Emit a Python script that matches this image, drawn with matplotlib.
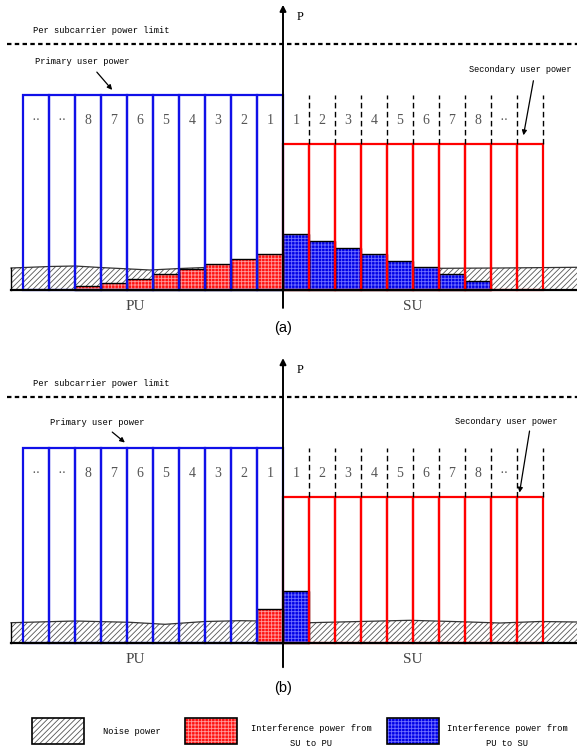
import numpy as np
import matplotlib
matplotlib.use("Agg")
import matplotlib.pyplot as plt
from matplotlib.patches import Rectangle

# ---- data (power in arbitrary units, subcarrier width = 1) ----
pu_labels = ["1", "2", "3", "4", "5", "6", "7", "8", "··", "··"]
su_labels = ["1", "2", "3", "4", "5", "6", "7", "8", "··", ""]
pu_power = 195
su_power = 146
power_limit = 246

# (a) interference levels, subcarrier 1, 2, ... outwards from the axis
red_a = [35.7, 30.7, 26.0, 20.7, 15.7, 10.7, 7.3, 4.0]
blue_a = [55.7, 49.3, 42.3, 35.7, 29.3, 23.3, 16.0, 9.3]
# (b) only the adjacent subcarrier interferes
red_b = [34.3]
blue_b = [52.3]

# noise floor (wavy)
noise_a_x = [-10.46, -8.96, -8.0, -7.04, -5.88, -5.12, -3.96, -3.0, -2.04, 0.0, 1.81, 3.73, 6.04, 8.35, 11.31]
noise_a_y = [22.0, 23.5, 24.0, 22.5, 21.0, 20.0, 21.5, 22.5, 23.0, 23.0, 22.0, 21.5, 21.7, 22.0, 22.7]
noise_b_x = [-10.46, -8.0, -5.88, -4.54, -3.0, -1.65, 0.0, 1.04, 4.88, 7.19, 8.35, 9.88, 11.31]
noise_b_y = [20.6, 22.3, 21.0, 19.0, 21.8, 22.6, 22.0, 20.6, 23.0, 21.3, 20.3, 21.8, 21.3]

BLUE = "#1010e8"
RED = "#ff0000"
MONO = "Liberation Mono"
SERIF = "Liberation Serif"

W, H = 577, 751
fig = plt.figure(figsize=(W / 100, H / 100), dpi=100)
plt.rcParams["hatch.linewidth"] = 0.6

XL = (-283 / 26, 294 / 26)


def hatched_bars(ax, x, h, face, grid):
    ax.bar(x, h, width=1, color=face, edgecolor=grid, linewidth=0, hatch="+++++", zorder=2)
    ax.bar(x, h, width=1, fill=False, edgecolor="black", linewidth=1.0, zorder=2.1)


def draw_panel(ax, red, blue, nx, ny, tag, tag_y, axis_bot, prim_arrow, sec_arrow, sec_text):
    ax.set_xlim(*XL)
    ax.axis("off")

    # noise floor
    ax.fill_between(nx, 0, ny, facecolor="white", edgecolor="#555555", hatch="//////",
                    linewidth=0, zorder=1)
    ax.plot(nx, ny, color="#333333", lw=0.9, zorder=1.5)
    ax.plot([nx[0], nx[0]], [0, ny[0]], color="black", lw=1.0, zorder=1.5)

    pu_x = -(np.arange(len(pu_labels)) + 0.5)
    su_x = np.arange(len(su_labels)) + 0.5

    hatched_bars(ax, pu_x[:len(red)], red, "#ff1010", "#ff9a9a")
    hatched_bars(ax, su_x[:len(blue)], blue, "#0000e6", "#7070ff")

    # user power allocations
    ax.bar(pu_x, pu_power, width=1, fill=False, edgecolor=BLUE, linewidth=1.6, zorder=3)
    ax.bar(su_x, su_power, width=1, fill=False, edgecolor=RED, linewidth=1.6, zorder=3)
    ax.vlines(su_x + 0.5, su_power, pu_power, colors="black", linewidth=1.0,
              linestyles=(0, (4, 2.5)), zorder=3)

    for x, s in zip(pu_x, pu_labels):
        ax.text(x, 170, s, ha="center", va="center", family=SERIF, fontsize=10, color="#555555")
    for x, s in zip(su_x, su_labels):
        ax.text(x, 170, s, ha="center", va="center", family=SERIF, fontsize=10, color="#555555")

    # baseline, limit, axis
    ax.plot([nx[0], XL[1]], [0, 0], color="black", lw=1.6, zorder=4)
    ax.plot([-10.6, XL[1]], [power_limit, power_limit], color="black", lw=1.6,
            linestyle=(0, (2, 1.5)), zorder=4)
    ax.annotate("", xy=(0, 288), xytext=(0, axis_bot),
                arrowprops=dict(arrowstyle="-|>", lw=1.4, color="black", mutation_scale=9),
                zorder=5)
    ax.text(0.65, 273, "P", family=SERIF, fontsize=9, ha="center", va="center")

    ax.text(-9.6, 259.5, "Per subcarrier power limit", family=MONO, fontsize=6.3,
            ha="left", va="center")
    ax.text(prim_arrow[0][0] - 2.3, prim_arrow[0][1] + 8, "Primary user power",
            family=MONO, fontsize=6.3, ha="left", va="center")
    ax.annotate("", xy=prim_arrow[1], xytext=prim_arrow[0],
                arrowprops=dict(arrowstyle="-|>", lw=0.9, color="black", mutation_scale=7))
    ax.text(sec_text[0], sec_text[1], "Secondary user power",
            family=MONO, fontsize=6.2, ha="right", va="center")
    ax.annotate("", xy=sec_arrow[1], xytext=sec_arrow[0],
                arrowprops=dict(arrowstyle="-|>", lw=0.9, color="black", mutation_scale=7))

    ax.text(-5.7, -16.5, "PU", family=SERIF, fontsize=11, color="#444444", ha="center", va="center")
    ax.text(5.0, -16.5, "SU", family=SERIF, fontsize=11, color="#444444", ha="center", va="center")
    ax.text(0, tag_y, tag, family="Liberation Sans", fontsize=10.5, ha="center", va="center")


# panel (a): figure pixels 0..340, baseline at 290
ax_a = fig.add_axes([0, 1 - 340 / H, 1, 340 / H])
ax_a.set_ylim(290 - 340, 290)
draw_panel(ax_a, red_a, blue_a, noise_a_x, noise_a_y, "(a)", -37.7, -20.7,
           ((-7.23, 220), (-6.5, 198)), ((9.65, 212), (9.23, 152)), (11.1, 220))

# panel (b): figure pixels 340..700, baseline at 643
ax_b = fig.add_axes([0, 1 - 700 / H, 1, 360 / H])
ax_b.set_ylim(643.3 - 700, 643.3 - 340)
draw_panel(ax_b, red_b, blue_b, noise_b_x, noise_b_y, "(b)", -44.4, -26.7,
           ((-6.65, 213), (-6.0, 199)), ((9.5, 215), (9.08, 148)), (10.55, 222))

# legend strip
ax_l = fig.add_axes([0, 0, 1, 51 / H])
ax_l.set_xlim(0, W)
ax_l.set_ylim(51, 0)
ax_l.axis("off")
keys = [
    ("white", "#555555", "//////", "Noise power", 32, 103, "left", 31),
    ("#ff1010", "#ff9a9a", "+++++", "Interference power from\nSU to PU", 185, 311, "center", 36),
    ("#0000e6", "#7070ff", "+++++", "Interference power from\nPU to SU", 387, 507, "center", 36),
]
for face, grid, hatch, label, bx, tx, ha, ty in keys:
    ax_l.add_patch(Rectangle((bx, 18), 52, 26, facecolor=face, edgecolor=grid,
                             hatch=hatch, linewidth=0))
    ax_l.add_patch(Rectangle((bx, 18), 52, 26, fill=False, edgecolor="black", linewidth=1.2))
    ax_l.text(tx, ty, label, family=MONO, fontsize=6.3, ha=ha, va="center",
              multialignment="center", linespacing=1.75)

fig.savefig("out.png", dpi=100)
